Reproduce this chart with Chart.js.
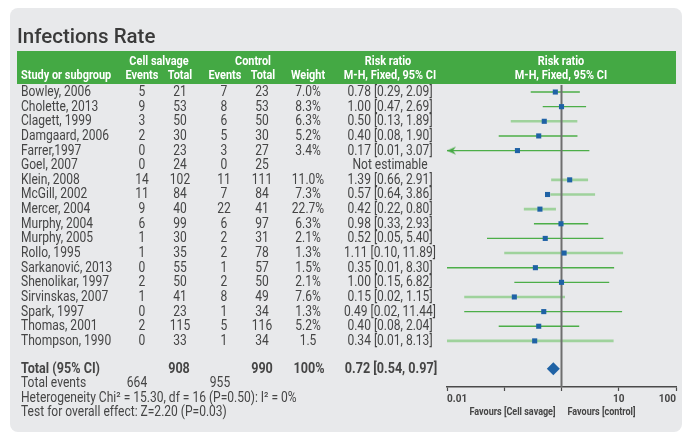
<!DOCTYPE html>
<html>
<head>
<meta charset="utf-8">
<title>Infections Rate</title>
<script src="https://cdn.jsdelivr.net/npm/chart.js@4.4.1/dist/chart.umd.min.js"></script>
<style>
  html, body { margin: 0; padding: 0; background: #fff; }
  canvas { display: block; }
</style>
</head>
<body>
<canvas id="forest" width="684" height="435"></canvas>
<script>
// ---- study data ----
const studies = ['Bowley, 2006', 'Cholette, 2013', 'Clagett, 1999', 'Damgaard, 2006', 'Farrer,1997',
  'Goel, 2007', 'Klein, 2008', 'McGill, 2002', 'Mercer, 2004', 'Murphy, 2004', 'Murphy, 2005',
  'Rollo, 1995', 'Sarkanović, 2013', 'Shenolikar, 1997', 'Sirvinskas, 2007', 'Spark, 1997',
  'Thomas, 2001', 'Thompson, 1990'];
const salvageEvents = [5, 9, 3, 2, 0, 0, 14, 11, 9, 6, 1, 1, 0, 2, 1, 0, 2, 0];
const salvageTotal  = [21, 53, 50, 30, 23, 24, 102, 84, 40, 99, 30, 35, 55, 50, 41, 23, 115, 33];
const controlEvents = [7, 8, 6, 5, 3, 0, 11, 7, 22, 6, 2, 2, 1, 2, 8, 1, 5, 1];
const controlTotal  = [23, 53, 50, 30, 27, 25, 111, 84, 41, 97, 31, 78, 57, 50, 49, 34, 116, 34];
const weights = ['7.0%', '8.3%', '6.3%', '5.2%', '3.4%', '', '11.0%', '7.3%', '22.7%', '6.3%',
  '2.1%', '1.3%', '1.5%', '2.1%', '7.6%', '1.3%', '5.2%', '1.5'];
const riskRatio = [0.78, 1.00, 0.50, 0.40, 0.17, null, 1.39, 0.57, 0.42, 0.98, 0.52, 1.11, 0.35, 1.00, 0.15, 0.49, 0.40, 0.34];
const ciLower   = [0.29, 0.47, 0.13, 0.08, 0.01, null, 0.66, 0.64, 0.22, 0.33, 0.05, 0.10, 0.01, 0.15, 0.02, 0.02, 0.08, 0.01];
const ciUpper   = [2.09, 2.69, 1.89, 1.90, 3.07, null, 2.91, 3.86, 0.80, 2.93, 5.40, 11.89, 8.30, 6.82, 1.15, 11.44, 2.04, 8.13];
const cutOffLow = ['Farrer,1997'];

// pooled result
const pooled = [0.72, 0.54, 0.97];
const pooledTotals = [908, 990];
const pooledEvents = [664, 955];
const pooledWeight = '100%';
const heterogeneity = 'Heterogeneity Chi² = 15.30, df = 16 (P=0.50): I² = 0%';
const overallEffect = 'Test for overall effect: Z=2.20 (P=0.03)';

// axis
const xTicks = [0.01, 0.1, 1, 10, 100];
const xTickLabels = ['0.01', '', '', '10', '100'];

// ---- styling ----
const TEXT = '#454545';
const GREEN = '#46a945';
const BLUE = '#1f62a5';
const TOTAL_ROW = 18.9;
const fadedRows = ['Clagett, 1999', 'Klein, 2008', 'McGill, 2002', 'Mercer, 2004',
  'Rollo, 1995', 'Sirvinskas, 2007', 'Thompson, 1990'];

const ciDark = [], ciFaded = [], estimates = [], arrows = [];
studies.forEach((name, i) => {
  if (riskRatio[i] === null) return;
  const target = fadedRows.includes(name) ? ciFaded : ciDark;
  target.push({ x: ciLower[i], y: i }, { x: ciUpper[i], y: i }, { x: 1, y: null });
  estimates.push({ x: riskRatio[i], y: i });
  if (cutOffLow.includes(name)) arrows.push({ x: ciLower[i], y: i });
});

// left-pointing arrow head, tip sits at the centre of the image
const arrowHead = document.createElement('canvas');
arrowHead.width = 22; arrowHead.height = 10;
(() => {
  const c = arrowHead.getContext('2d');
  c.fillStyle = GREEN;
  c.beginPath();
  c.moveTo(11, 5); c.lineTo(20, 1); c.lineTo(17, 5); c.lineTo(20, 9);
  c.closePath(); c.fill();
})();

// condensed text: squeeze horizontally around the anchor point
function txt(ctx, s, x, y, align, font, color, squeeze) {
  ctx.save();
  ctx.font = font;
  ctx.fillStyle = color || TEXT;
  ctx.textBaseline = 'middle';
  ctx.textAlign = align;
  ctx.translate(x, y);
  ctx.scale(squeeze || 0.86, 1);
  ctx.fillText(s, 0, 0);
  ctx.restore();
}

const tablePlugin = {
  id: 'forestTable',
  beforeDraw(chart) {
    const ctx = chart.ctx;
    ctx.save();
    ctx.fillStyle = '#e8e9eb';
    ctx.beginPath();
    ctx.roundRect(10, 8, 672, 424, 8);
    ctx.fill();
    // title
    ctx.fillStyle = '#3a3a3a';
    ctx.font = '500 20.5px Roboto';
    ctx.textBaseline = 'alphabetic';
    ctx.fillText('Infections Rate', 17, 43);
    // header band
    ctx.fillStyle = '#44a944';
    ctx.fillRect(17, 51, 659, 33);
    ctx.restore();

    const b = 'bold 13px Roboto';
    const hs = 0.84;
    txt(ctx, 'Cell salvage', 159, 62, 'center', b, '#fff', hs);
    txt(ctx, 'Control', 253, 62, 'center', b, '#fff', hs);
    txt(ctx, 'Risk ratio', 388, 62, 'center', b, '#fff', hs);
    txt(ctx, 'Risk ratio', 561, 62, 'center', b, '#fff', hs);
    txt(ctx, 'Study or subgroup', 21, 76, 'left', b, '#fff', hs);
    txt(ctx, 'Events', 142, 76, 'center', b, '#fff', hs);
    txt(ctx, 'Total', 180, 76, 'center', b, '#fff', hs);
    txt(ctx, 'Events', 225, 76, 'center', b, '#fff', hs);
    txt(ctx, 'Total', 263, 76, 'center', b, '#fff', hs);
    txt(ctx, 'Weight', 308, 76, 'center', b, '#fff', hs);
    txt(ctx, 'M-H, Fixed, 95% CI', 390, 76, 'center', b, '#fff', hs);
    txt(ctx, 'M-H, Fixed, 95% CI', 561, 76, 'center', b, '#fff', hs);
  },
  afterDraw(chart) {
    const ctx = chart.ctx;
    const y = chart.scales.y;
    const f = '14px Roboto';
    studies.forEach((name, i) => {
      const py = y.getPixelForValue(i) + 0.5;
      txt(ctx, name, 21, py, 'left', f);
      txt(ctx, String(salvageEvents[i]), 142, py, 'center', f);
      txt(ctx, String(salvageTotal[i]), 180, py, 'center', f);
      txt(ctx, String(controlEvents[i]), 224, py, 'center', f);
      txt(ctx, String(controlTotal[i]), 262, py, 'center', f);
      txt(ctx, weights[i], 308, py, 'center', f);
      const rr = riskRatio[i] === null ? 'Not estimable'
        : `${riskRatio[i].toFixed(2)} [${ciLower[i].toFixed(2)}, ${ciUpper[i].toFixed(2)}]`;
      txt(ctx, rr, 390, py, 'center', f);
    });

    const ty = y.getPixelForValue(TOTAL_ROW) + 0.5;
    const b = 'bold 14px Roboto';
    txt(ctx, 'Total (95% CI)', 21, ty, 'left', b, TEXT, 0.9);
    txt(ctx, String(pooledTotals[0]), 179, ty, 'center', b, TEXT, 0.9);
    txt(ctx, String(pooledTotals[1]), 262, ty, 'center', b, TEXT, 0.9);
    txt(ctx, pooledWeight, 309, ty, 'center', b, TEXT, 0.9);
    txt(ctx, `${pooled[0].toFixed(2)} [${pooled[1].toFixed(2)}, ${pooled[2].toFixed(2)}]`, 391, ty, 'center', b, TEXT, 0.9);
    txt(ctx, 'Total events', 21, ty + 14.5, 'left', f);
    txt(ctx, String(pooledEvents[0]), 137, ty + 14.5, 'center', f);
    txt(ctx, String(pooledEvents[1]), 220, ty + 14.5, 'center', f);
    txt(ctx, heterogeneity, 21, ty + 29, 'left', f);
    txt(ctx, overallEffect, 21, ty + 43.5, 'left', f);

    const one = chart.scales.x.getPixelForValue(1);
    txt(ctx, 'Favours [Cell savage]', one - 6, ty + 43.5, 'right', 'bold 10.5px Roboto');
    txt(ctx, 'Favours [control]', one + 6, ty + 43.5, 'left', 'bold 10.5px Roboto');
  }
};

new Chart(document.getElementById('forest'), {
  type: 'scatter',
  data: {
    datasets: [
      { type: 'line', data: ciFaded, borderColor: 'rgba(140,204,136,0.8)', borderWidth: 2.6,
        pointRadius: 0, spanGaps: false, order: 5 },
      { type: 'line', data: ciDark, borderColor: '#4cae48', borderWidth: 1.4,
        pointRadius: 0, spanGaps: false, order: 4 },
      { type: 'line', data: [{ x: 1, y: -0.5 }, { x: 1, y: 20.15 }], borderColor: '#6e6e6e',
        borderWidth: 2, pointRadius: 0, order: 3 },
      { data: arrows, pointStyle: arrowHead, clip: false, order: 2 },
      { data: estimates, pointStyle: 'rect', pointRadius: 3.6, backgroundColor: BLUE,
        borderWidth: 0, clip: false, order: 1 },
      { data: [{ x: pooled[0], y: TOTAL_ROW }], pointStyle: 'rectRot', pointRadius: 6.5,
        backgroundColor: BLUE, borderWidth: 0, order: 0 }
    ]
  },
  options: {
    responsive: false,
    animation: false,
    events: [],
    layout: { padding: { left: 447, right: 8, top: 84.7, bottom: 8 } },
    plugins: { legend: { display: false }, tooltip: { enabled: false } },
    scales: {
      x: {
        type: 'logarithmic',
        min: 0.01,
        max: 100,
        afterBuildTicks: s => { s.ticks = xTicks.map(v => ({ value: v })); },
        afterFit: s => { s.height = 40; },
        border: { display: true, color: '#4a4a4a', width: 1.5 },
        grid: { drawOnChartArea: false, drawTicks: true, tickLength: 4, tickColor: '#4a4a4a', tickWidth: 1.2 },
        ticks: {
          align: 'inner',
          padding: 2,
          maxRotation: 0,
          autoSkip: false,
          color: TEXT,
          font: { family: 'Roboto', size: 10, weight: 'bold' },
          callback: (v, i) => xTickLabels[i]
        }
      },
      y: { type: 'linear', reverse: true, min: -0.5, max: 20.15, display: false }
    }
  },
  plugins: [tablePlugin]
});
</script>
</body>
</html>
